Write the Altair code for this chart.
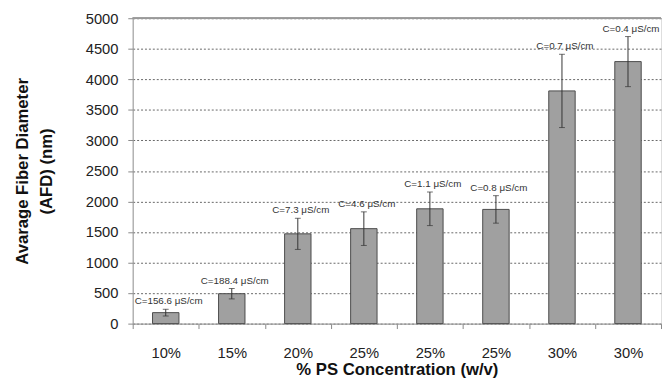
import json
import altair as alt
import pandas as pd

# Data
labels = ["10%", "15%", "20%", "25%", "25%", "25%", "30%", "30%"]
afd = [180, 490, 1470, 1555, 1880, 1870, 3810, 4290]
err = [55, 85, 255, 275, 275, 225, 600, 410]
conductivity = ["156.6", "188.4", "7.3", "4.6", "1.1", "0.8", "0.7", "0.4"]
y_ticks = [0, 500, 1000, 1500, 2000, 2500, 3000, 3500, 4000, 4500, 5000]

df = pd.DataFrame({
    "idx": list(range(len(labels))),
    "label": labels,
    "afd": afd,
    "lo": [a - e for a, e in zip(afd, err)],
    "hi": [a + e for a, e in zip(afd, err)],
    "ann": [f"C={c} \u03bcS/cm" for c in conductivity],
})

FONT = "Liberation Sans"
label_expr = json.dumps(labels) + "[datum.value]"

x_axis = alt.Axis(
    title="% PS Concentration (w/v)",
    labelExpr=label_expr,
    labelAngle=0,
    tickBand="extent",
    tickSize=5,
    tickColor="#888888",
    domainColor="#999999",
    labelFont=FONT,
    labelFontSize=15,
    labelColor="#222222",
    labelPadding=17,
    titleFont=FONT,
    titleFontSize=17,
    titleFontWeight="bold",
    titleColor="#111111",
    titlePadding=2,
    grid=False,
)
x_scale = alt.Scale(paddingInner=0, paddingOuter=0)

y_axis = alt.Axis(
    title=["Avarage Fiber Diameter", "(AFD) (nm)"],
    values=y_ticks,
    format="d",
    labelOverlap=False,
    tickSize=5,
    tickColor="#888888",
    domainColor="#999999",
    labelFont=FONT,
    labelFontSize=15,
    labelColor="#222222",
    labelPadding=10,
    titleFont=FONT,
    titleFontSize=17,
    titleFontWeight="bold",
    titleColor="#111111",
    titleLineHeight=25,
    titlePadding=30,
    grid=True,
    gridColor="#666666",
    gridDash=[2, 2],
    gridWidth=1,
)
y_scale = alt.Scale(domain=[0, 5000], nice=False)


def xenc():
    return alt.X("idx:O", scale=x_scale, axis=x_axis)


def yenc(field):
    return alt.Y(field, type="quantitative", scale=y_scale, axis=y_axis)


bars = alt.Chart(df).mark_bar(
    width=alt.RelativeBandSize(0.4),
    color="#a0a0a0",
    stroke="#4a4a4a",
    strokeWidth=1,
).encode(x=xenc(), y=yenc("afd"))

top_line = alt.Chart(df).mark_rule(color="#999999", strokeWidth=1).encode(
    y=alt.datum(5000, type="quantitative", scale=y_scale, axis=y_axis),
)

rules = alt.Chart(df).mark_rule(color="#333333", strokeWidth=1).encode(
    x=xenc(), y=yenc("lo"), y2="hi:Q",
)

caps_hi = alt.Chart(df).mark_tick(color="#333333", size=6, thickness=1).encode(
    x=xenc(), y=yenc("hi")
)
caps_lo = alt.Chart(df).mark_tick(color="#333333", size=6, thickness=1).encode(
    x=xenc(), y=yenc("lo")
)

text = alt.Chart(df).mark_text(
    font=FONT,
    fontSize=10,
    color="#333333",
    baseline="bottom",
    dy=-3,
    dx=3,
).encode(x=xenc(), y=yenc("hi"), text="ann:N")

chart = alt.layer(bars, top_line, rules, caps_hi, caps_lo, text).properties(
    width=538,
    height=311,
    padding={"left": 5, "top": 0, "right": 0, "bottom": 0},
).configure_view(stroke=None).configure(background="white")

chart.save("out.html", embed_options={"renderer": "svg", "actions": False})
